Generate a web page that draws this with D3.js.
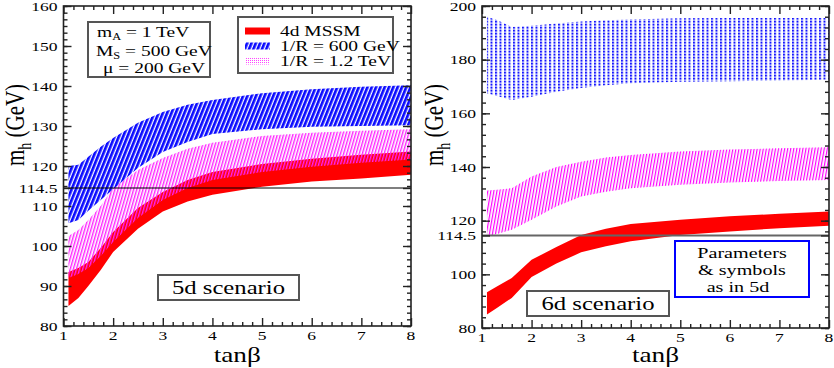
<!DOCTYPE html>
<html>
<head>
<meta charset="utf-8">
<script src="https://cdn.jsdelivr.net/npm/d3@7"></script>
<style>
  body { margin: 0; background: #fff; }
</style>
</head>
<body>
<div id="chart"></div>
<script>
// ---- data ----
const tanB5 = [1.1, 1.3, 1.5, 1.75, 2, 2.5, 3, 3.5, 4, 5, 6, 7, 8];
const red5Lo = [85, 87, 90, 94, 98.5, 104.3, 108.6, 111.1, 112.8, 114.8, 116.1, 116.9, 117.8];
const red5Hi = [93.5, 94.5, 96, 99.5, 103.5, 109.5, 113.5, 116.5, 118.5, 120.5, 121.8, 122.8, 123.6];
const mag5Lo = [92, 93, 94.5, 97.5, 101, 107, 111.5, 114.5, 116.5, 118.5, 119.8, 120.8, 121.6];
const mag5Hi = [102.5, 104, 106.5, 110, 114.5, 119, 122, 124.3, 125.8, 127.5, 128.3, 128.8, 129.2];
const blue5Lo = [105.7, 106.5, 108.8, 111.5, 114.2, 119.5, 123.5, 126, 128, 129.2, 129.8, 130, 130.2];
const blue5Hi = [120, 120.3, 122.3, 124.8, 127, 130.8, 133.5, 135.3, 136.5, 138.2, 139.2, 139.8, 140.2];

const tanB6 = [1.1, 1.3, 1.6, 2, 2.5, 3, 3.5, 4, 5, 6, 7, 8];
const red6Lo = [85, 87.5, 91.2, 99, 104, 108.2, 110.5, 112.3, 114.7, 116, 117.2, 118.1];
const red6Hi = [93.3, 95.5, 98.6, 105.4, 110.2, 114.7, 117, 118.8, 120.3, 121.6, 122.6, 123.4];
const mag6Lo = [114.2, 115, 116.6, 120.3, 125.3, 129, 130.8, 132.1, 133.4, 134.2, 134.8, 135.2];
const mag6Hi = [131.2, 131.5, 132.1, 136.5, 140, 142, 143.5, 144.5, 145.8, 146.5, 147, 147.4];
const blue6Lo = [167.5, 166.5, 165, 166.2, 168, 169.4, 170.5, 171.2, 171.8, 172, 172.2, 172.5];
const blue6Hi = [196, 194.8, 192.2, 192.6, 193.5, 194.2, 194.7, 195, 195.4, 195.5, 195.5, 195.5];

const xTickVals = [1, 2, 3, 4, 5, 6, 7, 8];
const yTicks5 = [80, 90, 100, 110, 114.5, 120, 130, 140, 150, 160];
const yTicks6 = [80, 100, 114.5, 120, 140, 160, 180, 200];
const lepBound = 114.5;

const legendLabels = ["4d MSSM", "1/R = 600 GeV", "1/R = 1.2 TeV"];

const W = 834, H = 368;
const SX = 1.3; // the original figure is stretched horizontally
const FONT = "'Liberation Serif', 'Times New Roman', 'DejaVu Serif', serif";

const svg = d3.select("#chart").append("svg")
  .attr("width", W).attr("height", H)
  .attr("font-family", FONT);

const defs = svg.append("defs");

// hatch patterns (xmgrace-like fills)
function stripes(id, w, h, bw, color, angle) {
  const p = defs.append("pattern")
    .attr("id", id)
    .attr("patternUnits", "userSpaceOnUse")
    .attr("width", w).attr("height", h)
    .attr("patternTransform", `rotate(${angle})`);
  p.append("rect").attr("width", bw).attr("height", h).attr("fill", color);
  return p;
}
stripes("blueHatch", 4, 4, 2.7, "#0a0aff", 22);
stripes("magHatch5", 3, 4, 1.4, "#ff22ff", 16);
stripes("magHatch6", 3, 4, 1.2, "#ff00ff", 10);
const bd = defs.append("pattern")
  .attr("id", "blueDots")
  .attr("patternUnits", "userSpaceOnUse")
  .attr("width", 4.5).attr("height", 3);
bd.append("rect").attr("x", 0).attr("y", 0).attr("width", 2).attr("height", 1.7).attr("fill", "#1414ff");
bd.append("rect").attr("x", 0).attr("y", 1.7).attr("width", 2).attr("height", 1.3).attr("fill", "#9fa4ff");
const md = defs.append("pattern")
  .attr("id", "magDots")
  .attr("patternUnits", "userSpaceOnUse")
  .attr("width", 2).attr("height", 2);
md.append("rect").attr("width", 1).attr("height", 1).attr("fill", "#ff44ff");

function txt(g, x, y, str, size, anchor, rot) {
  const t = g.append("text")
    .attr("transform", `translate(${x},${y}) scale(${SX},1)` + (rot ? ` rotate(${rot})` : ""))
    .attr("font-family", FONT)
    .attr("font-size", size)
    .attr("fill", "#000")
    .attr("text-anchor", anchor || "start");
  if (str != null) t.text(str);
  return t;
}

function box(g, x0, y0, x1, y1, color) {
  g.append("rect")
    .attr("x", x0).attr("y", y0)
    .attr("width", x1 - x0).attr("height", y1 - y0)
    .attr("fill", "#fff")
    .attr("stroke", color)
    .attr("stroke-width", 2);
}

function drawPanel(cfg) {
  const g = svg.append("g");
  const x = d3.scaleLinear().domain([1, 8]).range(cfg.xr);
  const y = d3.scaleLinear().domain(cfg.yd).range(cfg.yr);

  const area = (xs, lo, hi) => d3.area()
    .x((d, i) => x(xs[i]))
    .y0((d, i) => y(lo[i]))
    .y1((d, i) => y(hi[i]))
    .curve(d3.curveLinear)(xs);

  cfg.bands.forEach((b) => {
    g.append("path")
      .attr("d", area(cfg.xs, b.lo, b.hi))
      .attr("fill", b.fill);
  });

  // LEP bound
  g.append("line")
    .attr("x1", x(1)).attr("x2", x(8))
    .attr("y1", y(lepBound)).attr("y2", y(lepBound))
    .attr("stroke", cfg.lepColor)
    .attr("stroke-width", cfg.lepWidth);

  // frame
  g.append("rect")
    .attr("x", x(1)).attr("y", y(cfg.yd[1]))
    .attr("width", x(8) - x(1)).attr("height", y(cfg.yd[0]) - y(cfg.yd[1]))
    .attr("fill", "none").attr("stroke", "#222").attr("stroke-width", 1.6);

  // ticks (inward on all four sides)
  const xMinor = d3.range(1, 8.001, 0.2).filter((v) => Math.abs(v - Math.round(v)) > 0.01);
  const yMinor = d3.range(0, Math.round((cfg.yd[1] - cfg.yd[0]) / cfg.yMinorStep) + 1)
    .map((i) => cfg.yd[0] + i * cfg.yMinorStep);
  const tickAxis = (axisFn, scale, vals, size, tf) => {
    const a = g.append("g")
      .attr("transform", tf)
      .call(axisFn(scale).tickValues(vals).tickSize(-size).tickFormat(""));
    a.select(".domain").remove();
    a.selectAll("line").attr("stroke", "#222").attr("stroke-width", 1.4);
    return a;
  };
  const yMaj = cfg.yTicks;
  tickAxis(d3.axisBottom, x, xTickVals, 8, `translate(0,${y(cfg.yd[0])})`);
  tickAxis(d3.axisBottom, x, xMinor, 4, `translate(0,${y(cfg.yd[0])})`);
  tickAxis(d3.axisTop, x, xTickVals, 8, `translate(0,${y(cfg.yd[1])})`);
  tickAxis(d3.axisTop, x, xMinor, 4, `translate(0,${y(cfg.yd[1])})`);
  tickAxis(d3.axisLeft, y, yMaj, 8, `translate(${x(1)},0)`);
  tickAxis(d3.axisLeft, y, yMinor, 4, `translate(${x(1)},0)`);
  tickAxis(d3.axisRight, y, yMaj, 8, `translate(${x(8)},0)`);
  tickAxis(d3.axisRight, y, yMinor, 4, `translate(${x(8)},0)`);

  // tick labels
  xTickVals.forEach((v) => {
    txt(g, x(v), y(cfg.yd[0]) + 14, String(v), 13.5, "middle");
  });
  yMaj.forEach((v) => {
    txt(g, x(1) - 6, Math.max(y(v) + 4.5, 11), String(v), 13.5, "end");
  });

  // axis titles
  txt(g, (x(1) + x(8)) / 2, 362, "tanβ", 21, "middle");
  const yl = txt(g, cfg.ylabX, 125, null, 21, "middle", -90);
  yl.append("tspan").text("m");
  yl.append("tspan").attr("font-size", 14).attr("dy", 5).text("h");
  yl.append("tspan").attr("dy", -5).text(" (GeV)");

  return { g, x, y };
}

// ---- left: 5d ----
const p5 = drawPanel({
  xr: [63.5, 411], yd: [80, 160], yr: [326, 6],
  xs: tanB5,
  bands: [
    { lo: red5Lo, hi: red5Hi, fill: "#ff0000" },
    { lo: mag5Lo, hi: mag5Hi, fill: "url(#magHatch5)" },
    { lo: blue5Lo, hi: blue5Hi, fill: "url(#blueHatch)" },
  ],
  yTicks: yTicks5, yMinorStep: 10 / 6,
  lepColor: "#000", lepWidth: 1.2,
  ylabX: 24,
});

// parameter box
box(p5.g, 88, 22, 210, 77, "#555");
const l1 = txt(p5.g, 97, 37, null, 15);
l1.append("tspan").text("m");
l1.append("tspan").attr("font-size", 9.5).attr("dy", 3).text("A");
l1.append("tspan").attr("dy", -3).text(" = 1 TeV");
const l2 = txt(p5.g, 96, 56, null, 15);
l2.append("tspan").text("M");
l2.append("tspan").attr("font-size", 9.5).attr("dy", 3).text("S");
l2.append("tspan").attr("dy", -3).text(" = 500 GeV");
txt(p5.g, 103, 73, "μ  = 200 GeV", 15);

// legend
box(p5.g, 238, 17, 393, 73, "#555");
const legFills = ["#ff0000", "url(#blueHatch)", "url(#magDots)"];
const legY = [31, 46, 61];
legendLabels.forEach((lab, i) => {
  p5.g.append("rect")
    .attr("x", 245).attr("y", legY[i] - 3.5)
    .attr("width", 25).attr("height", 7)
    .attr("fill", legFills[i]);
  txt(p5.g, 280, legY[i] + 5, lab, 15);
});

box(p5.g, 158, 275, 299, 300, "#555");
txt(p5.g, 228.5, 294, "5d scenario", 19, "middle");

// ---- right: 6d ----
const p6 = drawPanel({
  xr: [482, 829], yd: [80, 200], yr: [328, 6],
  xs: tanB6,
  bands: [
    { lo: red6Lo, hi: red6Hi, fill: "#ff0000" },
    { lo: mag6Lo, hi: mag6Hi, fill: "url(#magHatch6)" },
    { lo: blue6Lo, hi: blue6Hi, fill: "url(#blueDots)" },
  ],
  yTicks: yTicks6, yMinorStep: 4,
  lepColor: "#666", lepWidth: 2,
  ylabX: 443,
});

box(p6.g, 527, 291, 669, 316, "#555");
txt(p6.g, 598, 310, "6d scenario", 19, "middle");

box(p6.g, 675, 241, 809, 297, "#0000ff");
txt(p6.g, 742, 258, "Parameters", 15.5, "middle");
txt(p6.g, 742, 275, "& symbols", 15.5, "middle");
txt(p6.g, 738, 292, "as in 5d", 15.5, "middle");
</script>
</body>
</html>
